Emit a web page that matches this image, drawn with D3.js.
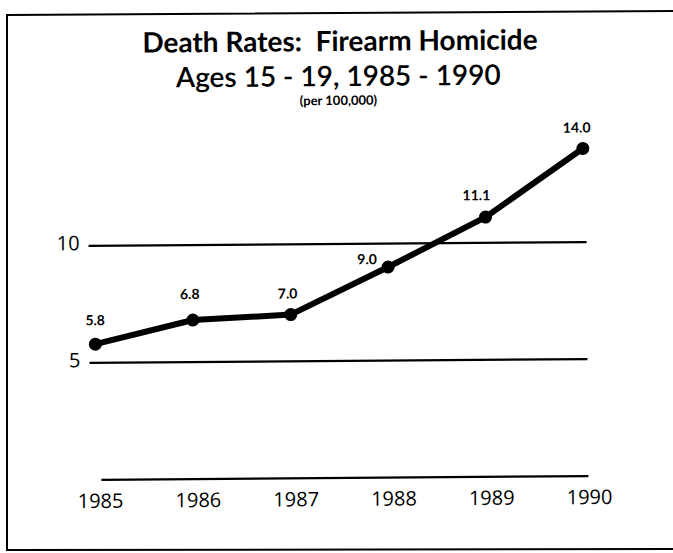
<!DOCTYPE html>
<html><head><meta charset="utf-8">
<script src="https://cdn.jsdelivr.net/npm/d3@7"></script>
<style>body{margin:0;background:#fff}svg{display:block}</style>
</head><body><svg id="c" width="673" height="553"></svg>
<script>
const years = [1985, 1986, 1987, 1988, 1989, 1990];
const rates = [5.8, 6.8, 7.0, 9.0, 11.1, 14.0];
const yTicks = [0, 5, 10];
const yTickLabels = ["", "5", "10"];
const titleLines = ["Death Rates:  Firearm Homicide", "Ages 15 - 19, 1985 - 1990"];
const subtitle = "(per 100,000)";

const svg = d3.select("#c");
const F = "Lato, 'Open Sans', sans-serif";
const FA = "'Open Sans', Lato, sans-serif";

// frame
svg.append("path").attr("d","M7,15 L673,11 M7,14 L7,551 M7,550 L673,549")
  .attr("stroke","#000").attr("stroke-width",2).attr("fill","none");

const g = svg.append("g").attr("transform","rotate(-0.45,340,300)");

const x = d3.scaleLinear().domain([1985,1990]).range([95,584]);
const y = d3.scaleLinear().domain([0,10]).range([478,244]);

// gridlines
yTicks.forEach((t,i)=>{
  const x0 = t===0 ? 100 : 89;
  g.append("line").attr("x1",x0).attr("x2",587).attr("y1",y(t)).attr("y2",y(t))
    .attr("stroke","#000").attr("stroke-width",2.2);
  if (yTickLabels[i]) g.append("text").attr("x",80).attr("y",y(t)+4)
    .attr("text-anchor","end").attr("font-family",FA).attr("font-size",20)
    .text(yTickLabels[i]);
});

// x labels
g.append("g").selectAll("text").data(years).join("text")
  .attr("x",d=>x(d)+4).attr("y",506).attr("text-anchor","middle")
  .attr("font-family",FA).attr("font-size",20).text(d=>d);

// line
const pts = years.map((yr,i)=>({yr, v:rates[i]}));
g.append("path").datum(pts)
  .attr("d", d3.line().x(d=>x(d.yr)).y(d=>y(d.v)))
  .attr("fill","none").attr("stroke","#000").attr("stroke-width",6)
  .attr("stroke-linejoin","round");
g.append("g").selectAll("circle").data(pts).join("circle")
  .attr("cx",d=>x(d.yr)).attr("cy",d=>y(d.v)).attr("r",6.5).attr("fill","#000");

// value labels
const dx = [0,-3,-3,-21,-9,-6];
const dy = [-19,-21,-16,-3,-17,-16];
g.append("g").selectAll("text").data(pts).join("text")
  .attr("x",(d,i)=>x(d.yr)+dx[i]).attr("y",(d,i)=>y(d.v)+dy[i])
  .attr("text-anchor","middle").attr("font-family",F).attr("font-weight",700)
  .attr("font-size",14).text(d=>d.v.toFixed(1));

// titles
g.append("text").attr("x",342).attr("y",51).attr("text-anchor","middle")
  .attr("font-family",F).attr("font-weight",700).attr("font-size",28)
  .attr("xml:space","preserve").style("white-space","pre").text(titleLines[0]);
g.append("text").attr("x",340).attr("y",86).attr("text-anchor","middle")
  .attr("font-family",F).attr("font-weight",600).attr("font-size",28).text(titleLines[1]);
g.append("text").attr("x",340).attr("y",105).attr("text-anchor","middle")
  .attr("font-family",F).attr("font-weight",700).attr("font-size",13).text(subtitle);
</script></body></html>
